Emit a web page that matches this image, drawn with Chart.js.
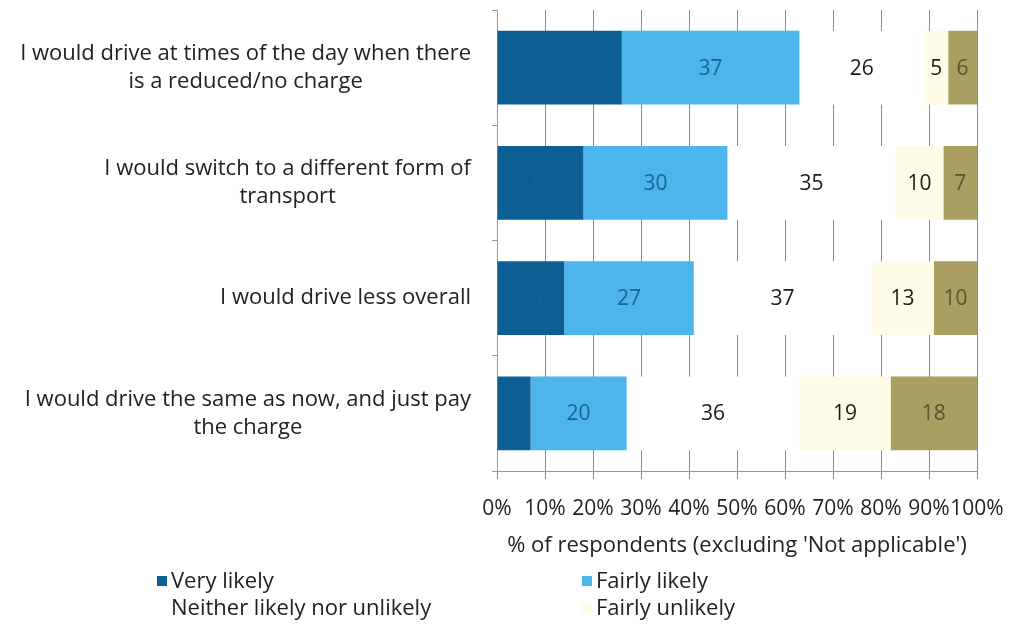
<!DOCTYPE html>
<html>
<head>
<meta charset="utf-8">
<script src="https://cdn.jsdelivr.net/npm/chart.js@4"></script>
<style>
  body { margin: 0; background: #fff; }
  #wrap { position: relative; width: 1013px; height: 626px; }
  #legend { position: absolute; left: 0; top: 0; width: 1013px; height: 626px; pointer-events: none;
            font-family: "Open Sans", "Noto Sans", sans-serif; font-size: 22px; color: #222; }
  .item { position: absolute; white-space: nowrap; line-height: 26px; }
  .box { display: inline-block; width: 10px; height: 10px; margin-right: 4px; vertical-align: 2px; }
</style>
</head>
<body>
<div id="wrap">
  <canvas id="chart" width="1013" height="626"></canvas>
  <div id="legend"></div>
</div>
<script>
// categories (two-line labels as in the source)
const categories = [
  ["I would drive at times of the day when there", "is a reduced/no charge"],
  ["I would switch to a different form of", "transport"],
  ["I would drive less overall"],
  ["I would drive the same as now, and just pay", "the charge"]
];

const veryLikely = [26, 18, 14, 7];
const fairlyLikely = [37, 30, 27, 20];
const neither = [26, 35, 37, 36];
const fairlyUnlikely = [5, 10, 13, 19];
const veryUnlikely = [6, 7, 10, 18];

const xTicks = [0, 10, 20, 30, 40, 50, 60, 70, 80, 90, 100];

const FONT = '"Open Sans", "Noto Sans", sans-serif';

const series = [
  { label: 'Very likely', data: veryLikely, color: '#0C5E93', text: '#1B5F8E', legend: true },
  { label: 'Fairly likely', data: fairlyLikely, color: '#4CB5EC', text: '#1A6396', legend: true },
  { label: 'Neither likely nor unlikely', data: neither, color: '#FFFFFF', text: '#1a1a1a', legend: true },
  { label: 'Fairly unlikely', data: fairlyUnlikely, color: '#FEFCE6', text: '#1a1a1a', legend: true },
  { label: 'Very unlikely', data: veryUnlikely, color: '#A99F60', text: '#5A5430', legend: false }
];

// draw value labels in bars + multi-line category labels (centered lines, right-aligned block)
const labelsPlugin = {
  id: 'labelsPlugin',
  afterDatasetsDraw(chart) {
    const ctx = chart.ctx;
    ctx.save();
    ctx.font = '21px ' + FONT;
    ctx.textAlign = 'center';
    ctx.textBaseline = 'middle';
    chart.data.datasets.forEach((ds, i) => {
      const meta = chart.getDatasetMeta(i);
      meta.data.forEach((bar, j) => {
        const v = ds.data[j];
        const x0 = Math.min(bar.x, chart.chartArea.right);
        const cx = (bar.base + x0) / 2;
        ctx.fillStyle = series[i].text;
        ctx.fillText(String(v), cx, bar.y + 1);
      });
    });

    const yScale = chart.scales.y;
    const rightEdge = yScale.right - 26;
    const lh = 28;
    ctx.font = '22px ' + FONT;
    categories.forEach((lines, i) => {
      const cy = yScale.getPixelForTick(i);
      const w = Math.max(...lines.map(l => ctx.measureText(l).width));
      const cx = rightEdge - w / 2;
      ctx.fillStyle = '#222';
      lines.forEach((l, k) => {
        ctx.fillText(l, cx, cy - (lines.length - 1) * lh / 2 + k * lh);
      });
    });
    ctx.restore();
  }
};

const chart = new Chart(document.getElementById('chart'), {
  type: 'bar',
  data: {
    labels: categories.map(c => c.join(' ')),
    datasets: series.map(s => ({
      label: s.label,
      data: s.data,
      backgroundColor: s.color,
      borderWidth: 0,
      categoryPercentage: 1,
      barPercentage: 0.64
    }))
  },
  options: {
    indexAxis: 'y',
    responsive: false,
    animation: false,
    layout: { padding: { top: 10, right: 36, bottom: 63, left: 0 } },
    plugins: { legend: { display: false }, tooltip: { enabled: false } },
    scales: {
      x: {
        stacked: true,
        min: 0,
        max: 100,
        afterBuildTicks: scale => { scale.ticks = xTicks.map(v => ({ value: v })); },
        afterFit: scale => {
          scale.height = 92;
          scale.paddingLeft = 0;
          scale.paddingRight = 0;
        },
        grid: { color: '#8a8a8a', lineWidth: 1, tickLength: 8, z: 0 },
        border: { color: '#9a9a9a' },
        ticks: {
          font: { family: FONT, size: 21 },
          color: '#222',
          padding: 17,
          maxRotation: 0,
          autoSkip: false,
          callback: v => v + '%'
        },
        title: {
          display: true,
          text: "% of respondents (excluding 'Not applicable')",
          font: { family: FONT, size: 22 },
          color: '#222',
          padding: { top: 4, bottom: 4 }
        }
      },
      y: {
        stacked: true,
        afterFit: scale => { scale.width = 497; },
        grid: { drawOnChartArea: false, tickLength: 5, color: '#9a9a9a', offset: true },
        border: { color: '#9a9a9a' },
        ticks: { display: false }
      }
    }
  },
  plugins: [labelsPlugin]
});

// legend: two columns, as in the source
const legendEl = document.getElementById('legend');
const cols = [157, 582];
const rows = [566, 593];
series.filter(s => s.legend).forEach((s, i) => {
  const d = document.createElement('div');
  d.className = 'item';
  d.style.left = cols[i % 2] + 'px';
  d.style.top = rows[Math.floor(i / 2)] + 'px';
  d.innerHTML = '<span class="box" style="background:' + s.color + '"></span>' + s.label;
  legendEl.appendChild(d);
});
</script>
</body>
</html>
